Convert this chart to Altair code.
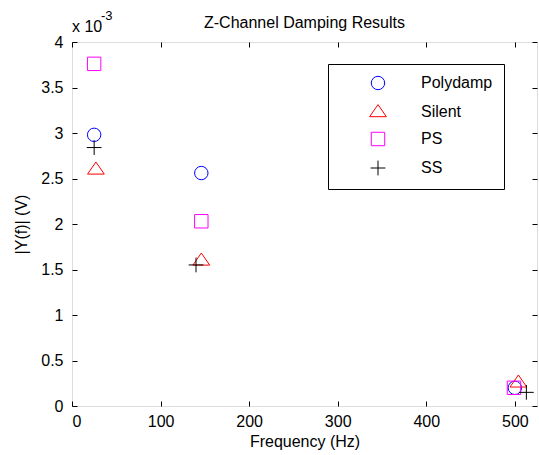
import altair as alt
import pandas as pd

# ---- data ----
series_names = ["Polydamp", "Silent", "PS", "SS"]
poly_freq = [25, 146, 500]
poly_val = [0.00298, 0.00256, 0.00020]
silent_freq = [27, 146, 504]
silent_val = [0.00260, 0.00160, 0.00026]
ps_freq = [25, 146, 499]
ps_val = [0.00376, 0.00203, 0.00020]
ss_freq = [25, 140, 513]
ss_val = [0.00284, 0.00155, 0.00015]

x_ticks = [0, 100, 200, 300, 400, 500]
y_ticks = [0, 0.0005, 0.001, 0.0015, 0.002, 0.0025, 0.003, 0.0035, 0.004]

colors = ["#0000ff", "#ff0000", "#ff00ff", "#000000"]
shapes = [
    "circle",
    "M-1.25,0.7L0,-1.1L1.25,0.7Z",
    "square",
    "M-1.1,0H1.1M0,-1.1V1.1",
]

rows = []
for name, fr, vals in zip(series_names,
                          [poly_freq, silent_freq, ps_freq, ss_freq],
                          [poly_val, silent_val, ps_val, ss_val]):
    for f, v in zip(fr, vals):
        rows.append({"series": name, "freq": f, "val": v})
df = pd.DataFrame(rows)

FONT = "Liberation Sans"
FS = 16
xscale = alt.Scale(domain=[0, 525], nice=False, zero=False)
yscale = alt.Scale(domain=[0, 0.004], nice=False, zero=False)

common_axis = dict(offset=-5, domain=False, grid=False, tickSize=5, tickColor="black",
                   tickWidth=1, labelColor="black", labelFont=FONT, labelFontSize=FS,
                   titleFont=FONT, titleFontSize=FS, titleFontWeight="normal",
                   titleColor="black")

points = alt.Chart(df).mark_point(filled=False, size=180, strokeWidth=1, opacity=1).encode(
    x=alt.X("freq:Q", scale=xscale,
            axis=alt.Axis(values=x_ticks, title="Frequency (Hz)", labelPadding=7,
                          titlePadding=4, **common_axis)),
    y=alt.Y("val:Q", scale=yscale,
            axis=alt.Axis(values=y_ticks, title="|Y(f)| (V)", labelPadding=9,
                          titlePadding=11,
                          labelExpr="format(datum.value*1000, '~g')", **common_axis)),
    color=alt.Color("series:N", scale=alt.Scale(domain=series_names, range=colors),
                    legend=alt.Legend(title=None, orient="none", legendX=256, legendY=22,
                                      strokeColor="black", fillColor="white", padding=11,
                                      rowPadding=10, symbolOffset=31, labelOffset=35,
                                      labelFont=FONT, labelFontSize=FS, labelColor="black",
                                      symbolSize=180, symbolStrokeWidth=1,
                                      labelExpr="datum.label + '      '")),
    shape=alt.Shape("series:N", scale=alt.Scale(domain=series_names, range=shapes)),
)

mirror = alt.Chart(df).mark_point(opacity=0).encode(
    x=alt.X("freq:Q", scale=xscale,
            axis=alt.Axis(values=x_ticks, orient="top", labels=False, title=None,
                          **common_axis)),
    y=alt.Y("val:Q", scale=yscale,
            axis=alt.Axis(values=y_ticks, orient="right", labels=False, title=None,
                          **common_axis)),
)

title_txt = alt.Chart(pd.DataFrame({"t": ["Z-Channel Damping Results"]})).mark_text(
    font=FONT, fontSize=FS, align="center", baseline="alphabetic", color="black"
).encode(text="t:N", x=alt.value(232.5), y=alt.value(-14))

exp_base = alt.Chart(pd.DataFrame({"t": ["x 10"]})).mark_text(
    font=FONT, fontSize=FS, align="left", baseline="alphabetic", color="black"
).encode(text="t:N", x=alt.value(0), y=alt.value(-10))

exp_sup = alt.Chart(pd.DataFrame({"t": ["-3"]})).mark_text(
    font=FONT, fontSize=13, align="left", baseline="alphabetic", color="black"
).encode(text="t:N", x=alt.value(29), y=alt.value(-22))

chart = alt.layer(points, mirror, title_txt, exp_base, exp_sup).resolve_axis(
    x="independent", y="independent"
).properties(
    width=465, height=364,
    autosize=alt.AutoSizeParams(type="none"),
    padding={"left": 72, "top": 42, "right": 2, "bottom": 49},
).configure_view(stroke="black", strokeWidth=1).configure(background="white")

chart.save("out.html", embed_options={"renderer": "svg", "actions": False})
